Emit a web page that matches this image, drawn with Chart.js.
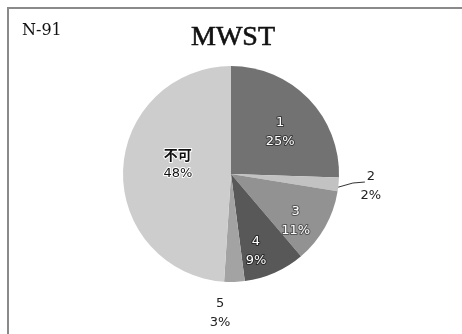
<!DOCTYPE html>
<html>
<head>
<meta charset="utf-8">
<script src="https://cdn.jsdelivr.net/npm/chart.js@4/dist/chart.umd.min.js"></script>
<style>
  html, body { margin: 0; padding: 0; background: #ffffff; }
  #wrap { width: 462px; height: 334px; }
</style>
</head>
<body>
<div id="wrap"><canvas id="c" width="462" height="334"></canvas></div>
<script>
// Survey result: MWST, N = 91
const titleText = "MWST";
const sampleText = "N-91";
const categories = ["1", "2", "3", "4", "5", "不可"];
const percents = [25, 2, 11, 9, 3, 48];

// Slice fills (greyscale)
const sliceColors = ["#727272", "#c2c2c2", "#929292", "#585858", "#a3a3a3", "#cdcdcd"];
// Label placement: radius as a fraction of the pie radius, plus an angular nudge (deg)
const labelRadius = [0.60, 1.30, 0.74, 0.75, 1.29, 0.50];
const labelNudge = [3.5, -0.6, 6.5, 5.9, 6.3, 8.4];
const labelFill = ["#ffffff", "#222222", "#ffffff", "#ffffff", "#222222", "#111111"];
const labelHalo = ["#3a3a3a", null, "#555555", "#2a2a2a", null, "#ffffff"];
const leaderSlices = [1];

const framePlugin = {
  id: "frame",
  beforeDraw(chart) {
    const ctx = chart.ctx;
    ctx.save();
    ctx.fillStyle = "#ffffff";
    ctx.fillRect(0, 0, chart.width, chart.height);
    ctx.strokeStyle = "#8a8a8a";
    ctx.lineWidth = 2;
    ctx.beginPath();
    ctx.moveTo(8, chart.height);
    ctx.lineTo(8, 8);
    ctx.lineTo(chart.width, 8);
    ctx.stroke();

    ctx.fillStyle = "#111111";
    ctx.textAlign = "center";
    ctx.textBaseline = "alphabetic";
    ctx.font = "28px 'Liberation Serif', serif";
    ctx.strokeStyle = "#111111";
    ctx.lineWidth = 0.6;
    ctx.fillText(titleText, 233, 45);
    ctx.strokeText(titleText, 233, 45);

    ctx.textAlign = "left";
    ctx.font = "16px 'DejaVu Serif', serif";
    ctx.fillText(sampleText, 22, 35);
    ctx.restore();
  }
};

const labelPlugin = {
  id: "sliceLabels",
  afterDatasetsDraw(chart) {
    const ctx = chart.ctx;
    const meta = chart.getDatasetMeta(0);
    ctx.save();
    ctx.textAlign = "center";
    ctx.textBaseline = "middle";
    ctx.lineJoin = "round";
    meta.data.forEach((arc, i) => {
      const p = arc.getProps(["x", "y", "startAngle", "endAngle", "outerRadius"], true);
      const mid = (p.startAngle + p.endAngle) / 2 + labelNudge[i] * Math.PI / 180;
      const r = p.outerRadius * labelRadius[i];
      const lx = p.x + Math.cos(mid) * r;
      const ly = p.y + Math.sin(mid) * r;

      if (leaderSlices.includes(i)) {
        const a = (p.startAngle + p.endAngle) / 2 + 1.5 * Math.PI / 180;
        const sx = p.x + Math.cos(a) * p.outerRadius;
        const sy = p.y + Math.sin(a) * p.outerRadius;
        const ex = lx - 6, ey = ly - 4;
        ctx.strokeStyle = "#333333";
        ctx.lineWidth = 1;
        ctx.beginPath();
        ctx.moveTo(sx, sy);
        ctx.lineTo(ex - 12, ey + 1);
        ctx.lineTo(ex, ey);
        ctx.stroke();
      }

      const lines = [categories[i], percents[i] + "%"];
      lines.forEach((t, k) => {
        const ty = ly + (k === 0 ? -9.5 : 9.5);
        const cjk = /[^\x00-\x7f]/.test(t);
        ctx.font = cjk ? "bold 14px 'Noto Sans CJK JP', sans-serif"
                       : "13px 'DejaVu Sans', sans-serif";
        if (labelHalo[i]) {
          ctx.strokeStyle = labelHalo[i];
          ctx.lineWidth = 2;
          ctx.strokeText(t, lx, ty);
        }
        ctx.fillStyle = labelFill[i];
        ctx.fillText(t, lx, ty);
      });
    });
    ctx.restore();
  }
};

new Chart(document.getElementById("c"), {
  type: "pie",
  data: {
    labels: categories,
    datasets: [{
      data: percents,
      backgroundColor: sliceColors,
      borderWidth: 0
    }]
  },
  options: {
    responsive: false,
    devicePixelRatio: 1,
    animation: false,
    layout: { padding: { top: 66, bottom: 52, left: 0, right: 0 } },
    plugins: {
      legend: { display: false },
      tooltip: { enabled: false },
      title: { display: false }
    }
  },
  plugins: [framePlugin, labelPlugin]
});
</script>
</body>
</html>
